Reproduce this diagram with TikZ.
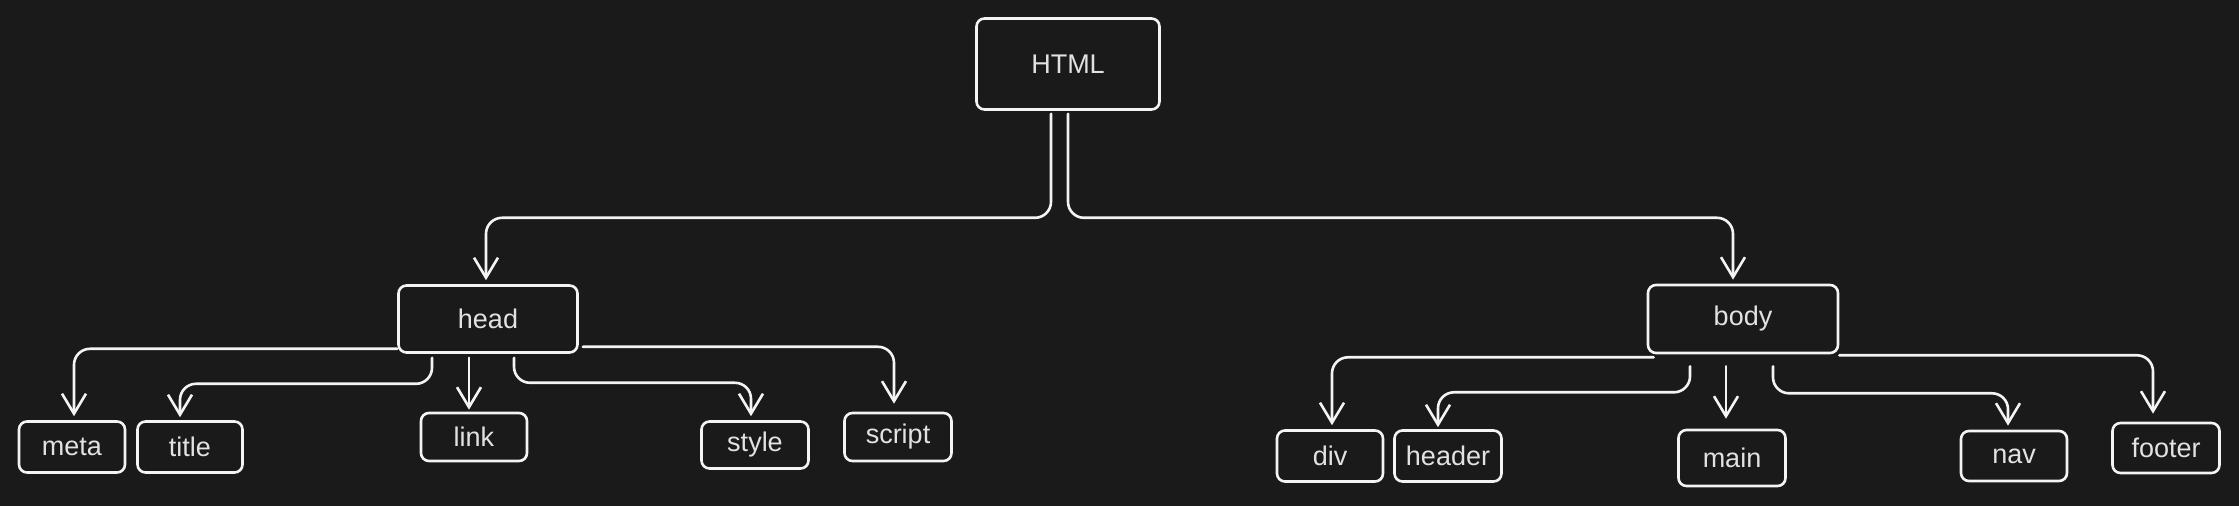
\documentclass[tikz,border=0pt]{standalone}
\usepackage{fontspec}
\setmainfont{Liberation Sans}
\usetikzlibrary{arrows.meta}
\definecolor{bg}{HTML}{1A1A1A}
\definecolor{ink}{HTML}{F4F4F4}
\definecolor{txt}{HTML}{E2E2E2}
\tikzset{
  x=1pt,y=1pt,
  box/.style={draw=ink, line width=2.6pt, rounded corners=8pt, fill=bg, text=txt,
    font=\fontsize{27}{32}\selectfont, inner sep=0pt, anchor=center},
  conn/.style={draw=ink, line width=2.6pt, rounded corners=16pt, line cap=round,
    -{Straight Barb[length=20pt,width=24pt]}},
}
\begin{document}
\begin{tikzpicture}
\fill[bg] (0,0) rectangle (2239,506);
\useasboundingbox (0,0) rectangle (2239,506);
% nodes (y = 506 - pixel y)
\node[box, minimum width=183pt, minimum height=91pt] (html) at (1068,442) {HTML};
\node[box, minimum width=179pt, minimum height=67pt] (head) at (488,187) {head};
\node[box, minimum width=190pt, minimum height=68pt] (body) at (1743,187) {body};
\node[box, minimum width=106pt, minimum height=51pt] (meta) at (72,59) {meta};
\node[box, minimum width=105pt, minimum height=51pt] (title) at (190,59) {title};
\node[box, minimum width=106pt, minimum height=48pt] (link) at (474,69) {link};
\node[box, minimum width=107pt, minimum height=47pt] (style) at (755,61) {style};
\node[box, minimum width=107pt, minimum height=48pt] (script) at (898,69) {script};
\node[box, minimum width=106pt, minimum height=51pt] (div) at (1330,50) {div};
\node[box, minimum width=107pt, minimum height=51pt] (header) at (1448,50) {header};
\node[box, minimum width=107pt, minimum height=56pt] (main) at (1732,48) {main};
\node[box, minimum width=106pt, minimum height=50pt] (nav) at (2014,50) {nav};
\node[box, minimum width=107pt, minimum height=50pt] (footer) at (2166,58) {footer};
% connectors
\draw[conn] ([xshift=-17pt,yshift=-3pt]html.south) -- ++(0,-104) -| ([xshift=-2pt,yshift=4pt]head.north);
\draw[conn] ([yshift=-3pt]html.south) -- ++(0,-104) -| ([xshift=-10pt,yshift=4pt]body.north);
\draw[conn] ([yshift=5pt]head.south west) -| ([xshift=2pt,yshift=4pt]meta.north);
\draw[conn] ([xshift=-56pt,yshift=-4pt]head.south) -- ++(0,-26) -| ([xshift=-10pt,yshift=3pt]title.north);
\draw[conn] ([xshift=-19pt,yshift=-4pt]head.south) -- ([xshift=-5pt,yshift=2pt]link.north);
\draw[conn] ([xshift=26pt,yshift=-4pt]head.south) -- ++(0,-25) -| ([xshift=-4pt,yshift=4pt]style.north);
\draw[conn] ([xshift=4pt,yshift=7pt]head.south east) -| ([xshift=-4pt,yshift=8pt]script.north);
\draw[conn] ([xshift=7pt,yshift=-3pt]body.south west) -| ([xshift=2pt,yshift=4pt]div.north);
\draw[conn] ([xshift=-53pt,yshift=-12pt]body.south) -- ++(0,-26) -| ([xshift=-10pt,yshift=2pt]header.north);
\draw[conn] ([xshift=-17pt,yshift=-12pt]body.south) -- ([xshift=-6pt,yshift=10pt]main.north);
\draw[conn] ([xshift=30pt,yshift=-12pt]body.south) -- ++(0,-27) -| ([xshift=-6pt,yshift=4pt]nav.north);
\draw[conn] ([yshift=-1pt]body.south east) -| ([xshift=-13pt,yshift=8pt]footer.north);
\end{tikzpicture}
\end{document}
